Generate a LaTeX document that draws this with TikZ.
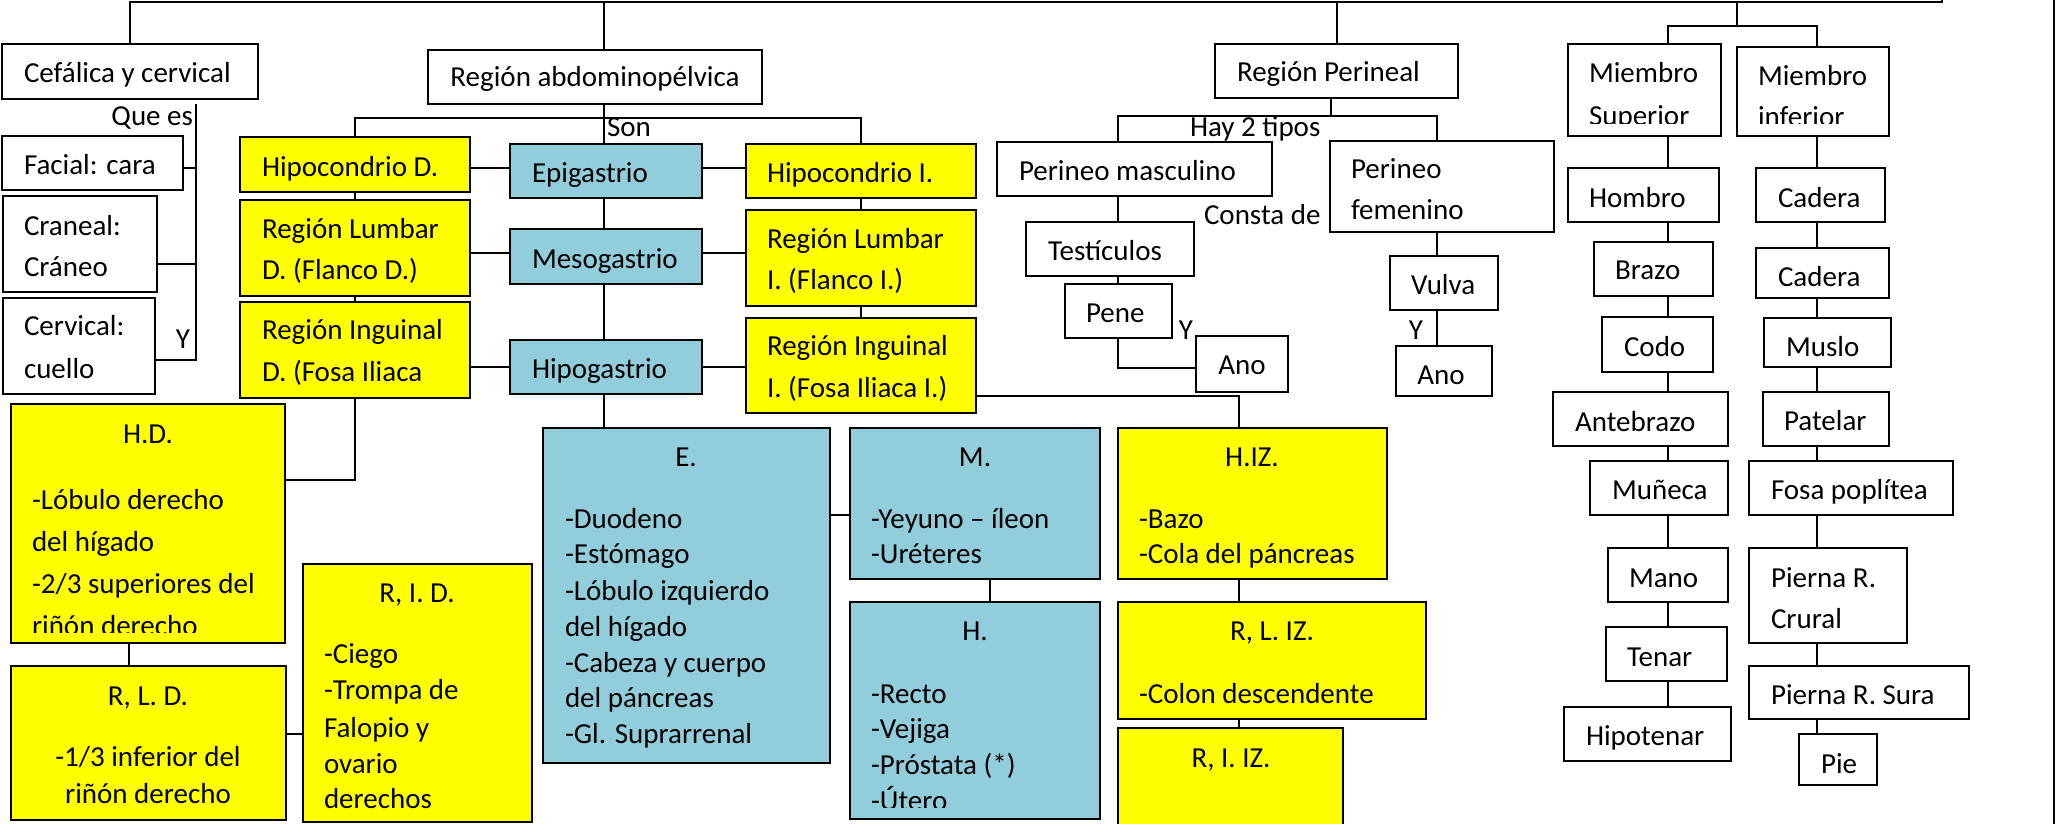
\documentclass[tikz,border=0pt]{standalone}
\usepackage{fontspec}
\setmainfont{Carlito}
\usetikzlibrary{calc}
\definecolor{yel}{HTML}{FFFF00}
\definecolor{blu}{HTML}{92CDDC}
\newcounter{tn}
\newcommand\fs{\fontsize{29}{35}\selectfont}
\newcommand\bx[6]{\node[#6,anchor=north west,minimum width={#4-#2},minimum height={#5-#3}] (#1) at (#2,#3) {};}
\newcommand\txl[3]{\stepcounter{tn}\node[txt,anchor=base west] (t\arabic{tn}) at (#1,#2) {#3};}
\newcommand\txc[3]{\stepcounter{tn}\node[txt,anchor=base] (t\arabic{tn}) at (#1,#2) {#3};}
\tikzset{
  wbox/.style={draw, fill=white, line width=2.2pt, inner sep=0pt, outer sep=0pt},
  ybox/.style={wbox, fill=yel},
  bbox/.style={wbox, fill=blu},
  conn/.style={line width=2pt},
  txt/.style={inner sep=0pt, outer sep=0pt, font=\fs},
}
\begin{document}
\begin{tikzpicture}[x=1pt,y=-1pt]
\useasboundingbox (0,0) rectangle (2066,824);
% ---------- boxes ----------
\bx{cef}{2}{44}{258}{99}{wbox}
\bx{fac}{2}{136}{183}{190}{wbox}
\bx{cra}{3}{196}{157}{292}{wbox}
\bx{cer}{3}{298}{155}{394}{wbox}
\bx{abd}{428}{50}{762}{104}{wbox}
\bx{hcd}{240}{137}{470}{192}{ybox}
\bx{lud}{240}{200}{470}{296}{ybox}
\bx{ind}{240}{302}{470}{398}{ybox}
\bx{epi}{510}{144}{702}{198}{bbox}
\bx{mes}{510}{229}{702}{284}{bbox}
\bx{hpg}{510}{340}{702}{394}{bbox}
\bx{hci}{746}{144}{976}{198}{ybox}
\bx{lui}{746}{210}{976}{306}{ybox}
\bx{ini}{746}{318}{976}{413}{ybox}
\bx{hd}{11}{404}{285}{643}{ybox}
\bx{rld}{11}{666}{286}{820}{ybox}
\bx{rid}{303}{564}{532}{822}{ybox}
\bx{E}{543}{428}{830}{763}{bbox}
\bx{M}{850}{428}{1100}{579}{bbox}
\bx{H}{850}{602}{1100}{819}{bbox}
\bx{hiz}{1118}{428}{1387}{579}{ybox}
\bx{rliz}{1118}{602}{1426}{719}{ybox}
\bx{riz}{1118}{728}{1343}{830}{ybox}
\bx{per}{1215}{44}{1458}{98}{wbox}
\bx{pm}{997}{142}{1272}{196}{wbox}
\bx{pf}{1330}{141}{1554}{232}{wbox}
\bx{tes}{1026}{222}{1194}{276}{wbox}
\bx{pene}{1065}{284}{1172}{338}{wbox}
\bx{anoM}{1196}{336}{1288}{392}{wbox}
\bx{vul}{1390}{256}{1498}{310}{wbox}
\bx{anoF}{1396}{346}{1492}{396}{wbox}
\bx{msup}{1568}{44}{1721}{136}{wbox}
\bx{minf}{1737}{47}{1889}{136}{wbox}
\bx{hom}{1568}{168}{1719}{222}{wbox}
\bx{bra}{1594}{242}{1713}{296}{wbox}
\bx{cod}{1602}{317}{1713}{372}{wbox}
\bx{ant}{1553}{392}{1728}{446}{wbox}
\bx{mun}{1590}{461}{1728}{515}{wbox}
\bx{man}{1608}{548}{1728}{602}{wbox}
\bx{ten}{1606}{627}{1727}{681}{wbox}
\bx{hip}{1564}{707}{1731}{761}{wbox}
\bx{cad1}{1756}{168}{1885}{222}{wbox}
\bx{cad2}{1756}{248}{1889}{298}{wbox}
\bx{mus}{1764}{318}{1891}{367}{wbox}
\bx{pat}{1763}{392}{1889}{446}{wbox}
\bx{fos}{1749}{461}{1953}{515}{wbox}
\bx{pcr}{1749}{548}{1907}{643}{wbox}
\bx{psu}{1749}{666}{1969}{719}{wbox}
\bx{pie}{1799}{734}{1877}{785}{wbox}
% ---------- connectors ----------
\coordinate (topR) at (1942,2);
\coordinate (topEnd) at (1942,-3);
\draw[conn] (cef.north) |- (topR) -- (topEnd);
\coordinate (son) at (604,118);
\draw[conn] (son |- topR) -- (son |- abd.north);
\draw[conn] (son |- abd.south) -- (son |- epi.north);
\draw[conn] (hcd.north) |- (son) -| (hci.north);
\draw[conn] (per.north |- topR) -- (per.north);
\coordinate (mj) at (1737,26);
\coordinate (colU) at (1668,0);
\coordinate (colL) at (1817,0);
\draw[conn] (mj |- topR) -- (mj);
\draw[conn] (msup.north -| colU) |- (mj) -| (minf.north -| colL);
\foreach \a/\b in {msup/hom,hom/bra,bra/cod,cod/ant,ant/mun,mun/man,man/ten,ten/hip}
  \draw[conn] (\a.south -| colU) -- (\b.north -| colU);
\foreach \a/\b in {minf/cad1,cad1/cad2,cad2/mus,mus/pat,pat/fos,fos/pcr,pcr/psu,psu/pie}
  \draw[conn] (\a.south -| colL) -- (\b.north -| colL);
% cefalica
\coordinate (qe) at (196,104);
\coordinate (qeB) at (196,360);
\draw[conn] (qe) -- (qeB) -- (qeB -| cer.east);
\draw[conn] ([yshift=-5pt]fac.east) -- ([yshift=-5pt]fac.east -| qe);
\draw[conn] ([yshift=-20pt]cra.east) -- ([yshift=-20pt]cra.east -| qe);
% abdomen
\draw[conn] (epi.south -| son) -- (mes.north -| son);
\draw[conn] (mes.south -| son) -- (hpg.north -| son);
\draw[conn] (hpg.south -| son) -- (E.north -| son);
\draw[conn] (hcd.south) -- (lud.north);
\draw[conn] (lud.south) -- (ind.north);
\draw[conn] (hci.south) -- (lui.north);
\draw[conn] (lui.south) -- (ini.north);
\draw[conn] ([yshift=-3pt]hcd.east) -- ([yshift=-3pt]hcd.east -| epi.west);
\draw[conn] ([yshift=3pt]epi.east) -- ([yshift=3pt]epi.east -| hci.west);
\draw[conn] ([yshift=-5pt]lud.east) -- ([yshift=-5pt]lud.east -| mes.west);
\draw[conn] ([yshift=3.5pt]mes.east) -- ([yshift=3.5pt]mes.east -| lui.west);
\draw[conn] (hpg.west) -- (hpg.west -| ind.east);
\draw[conn] (hpg.east) -- (hpg.east -| ini.west);
\draw[conn] ([yshift=-11.5pt]M.west) -- ([yshift=-11.5pt]M.west -| E.east);
\draw[conn] ([xshift=15pt]M.south) -- ([xshift=15pt]M.south |- H.north);
\draw[conn] (ind.south) |- ([yshift=43.5pt]hd.east);
\draw[conn] ([xshift=-19pt]hd.south) -- ([xshift=-19pt]hd.south |- rld.north);
\draw[conn] ([yshift=9pt]rld.east) -- ([yshift=9pt]rld.east -| rid.west);
\draw[conn] ([yshift=-30pt]ini.east) -| ([xshift=-13.5pt]hiz.north);
\draw[conn] ([xshift=-13.5pt]hiz.south) -- ([xshift=-13.5pt]hiz.south |- rliz.north);
\draw[conn] ([xshift=-13.5pt]hiz.south |- rliz.south) -- ([xshift=-13.5pt]hiz.south |- riz.north);
% perineal
\coordinate (hay) at (1118,116);
\draw[conn] ([xshift=-6pt]per.south) -- ([xshift=-6pt]per.south |- hay);
\draw[conn] (pm.north -| hay) -- (hay) -| ([xshift=-5pt]pf.north);
\draw[conn] (pm.south -| hay) -- (tes.north -| hay);
\draw[conn] (tes.south -| hay) -- (pene.north -| hay);
\draw[conn] (pene.south -| hay) |- ([yshift=-4pt]anoM.west);
\draw[conn] ([xshift=-5pt]pf.south) -- ([xshift=-5pt]pf.south |- vul.north);
\draw[conn] ([xshift=-5pt]pf.south |- vul.south) -- ([xshift=-5pt]pf.south |- anoF.north);
% right edge line
\coordinate (rt) at (2054,0);
\coordinate (rb) at (2054,824);
\draw[line width=2.6pt] (rt) -- (rb);
% ---------- texts (baselines) ----------
\txl{24}{83}{Cefálica y cervical}
\txl{24}{175}{Facial: cara}
\txl{24}{235}{Craneal:}
\txl{24}{276}{Cráneo}
\txl{24}{335}{Cervical:}
\txl{24}{378}{cuello}
\node[txt,anchor=base east] (lqe) at (193,126) {Que es};
\txc{183}{348}{Y}
\txc{595}{87}{Región abdominopélvica}
\txl{607}{137}{Son}
\txl{262}{176}{Hipocondrio D.}
\txl{262}{238}{Región Lumbar}
\txl{262}{279}{D. (Flanco D.)}
\txl{262}{339}{Región Inguinal}
\txl{262}{381}{D. (Fosa Iliaca}
\txl{532}{182}{Epigastrio}
\txl{532}{268}{Mesogastrio}
\txl{532}{378}{Hipogastrio}
\txl{767}{182}{Hipocondrio I.}
\txl{767}{248}{Región Lumbar}
\txl{767}{289}{I. (Flanco I.)}
\txl{767}{355}{Región Inguinal}
\txl{767}{397}{I. (Fosa Iliaca I.)}
\txc{148}{443}{H.D.}
\txl{32}{509}{-Lóbulo derecho}
\txl{32}{551}{del hígado}
\txl{32}{593}{-2/3 superiores del}
\begin{scope}
\clip (hd.north west) rectangle ([yshift=11pt]hd.south east);
\txl{32}{635}{riñón derecho}
\end{scope}
\txc{148}{705}{R, L. D.}
\txc{148}{766}{-1/3 inferior del}
\txc{148}{803}{riñón derecho}
\txc{417}{602}{R, I. D.}
\txl{324}{663}{-Ciego}
\txl{324}{699}{-Trompa de}
\txl{324}{737}{Falopio y}
\txl{324}{773}{ovario}
\txl{324}{808}{derechos}
\txc{686}{466}{E.}
\txl{565}{528}{-Duodeno}
\txl{565}{563}{-Estómago}
\txl{565}{600}{-Lóbulo izquierdo}
\txl{565}{636}{del hígado}
\txl{565}{672}{-Cabeza y cuerpo}
\txl{565}{707}{del páncreas}
\txl{565}{743}{-Gl. Suprarrenal}
\txc{975}{466}{M.}
\txl{871}{528}{-Yeyuno – íleon}
\txl{871}{563}{-Uréteres}
\txc{975}{640}{H.}
\txl{871}{703}{-Recto}
\txl{871}{738}{-Vejiga}
\txl{871}{774}{-Próstata (*)}
\begin{scope}
\clip (H.north west) rectangle ([yshift=12pt]H.south east);
\txl{871}{810}{-Útero}
\end{scope}
\txc{1252}{466}{H.IZ.}
\txl{1139}{528}{-Bazo}
\txl{1139}{563}{-Cola del páncreas}
\txc{1272}{640}{R, L. IZ.}
\txl{1139}{703}{-Colon descendente}
\txc{1231}{767}{R, I. IZ.}
\txl{1237}{82}{Región Perineal}
\txl{1190}{137}{Hay 2 tipos}
\txl{1019}{180}{Perineo masculino}
\txl{1351}{178}{Perineo}
\txl{1351}{219}{femenino}
\txl{1204}{224}{Consta de}
\txl{1048}{260}{Testículos}
\txl{1086}{322}{Pene}
\txc{1186}{339}{Y}
\txc{1242}{374}{Ano}
\txl{1411}{294}{Vulva}
\txc{1416}{339}{Y}
\txc{1441}{384}{Ano}
\txl{1589}{83}{Miembro}
\begin{scope}
\clip (msup.north west) rectangle ([yshift=12pt]msup.south east);
\txl{1589}{126}{Superior}
\end{scope}
\txl{1758}{86}{Miembro}
\begin{scope}
\clip (minf.north west) rectangle ([yshift=12pt]minf.south east);
\txl{1758}{127}{inferior}
\end{scope}
\txl{1589}{207}{Hombro}
\txl{1615}{279}{Brazo}
\txl{1624}{356}{Codo}
\txl{1575}{431}{Antebrazo}
\txl{1612}{499}{Muñeca}
\txl{1629}{587}{Mano}
\txl{1627}{666}{Tenar}
\txl{1586}{745}{Hipotenar}
\txl{1778}{207}{Cadera}
\txl{1778}{286}{Cadera}
\txl{1786}{356}{Muslo}
\txl{1784}{430}{Patelar}
\txl{1771}{499}{Fosa poplítea}
\txl{1771}{587}{Pierna R.}
\txl{1771}{628}{Crural}
\txl{1771}{704}{Pierna R. Sura}
\txl{1821}{773}{Pie}
\end{tikzpicture}
\end{document}
